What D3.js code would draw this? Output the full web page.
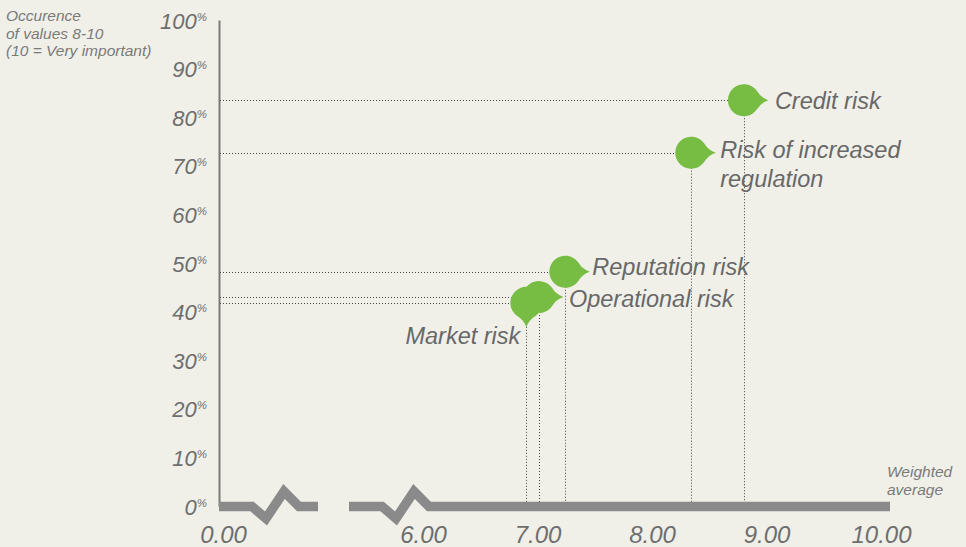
<!DOCTYPE html>
<html>
<head>
<meta charset="utf-8">
<script src="https://cdn.jsdelivr.net/npm/d3@7"></script>
<style>
  html, body { margin: 0; padding: 0; background: #f0f0e9; }
  svg { display: block; font-family: 'Liberation Sans', Arial, sans-serif; font-style: italic; }
</style>
</head>
<body>
<div id="app"></div>
<script>
// Data
const risks = ['Credit risk', 'Risk of increased\nregulation', 'Reputation risk', 'Operational risk', 'Market risk'];
const weightedAvg = [8.82, 8.36, 7.26, 7.03, 6.92];
const occurrence = [83.5, 72.7, 48.2, 43.0, 41.8];
const yTicks = [0, 10, 20, 30, 40, 50, 60, 70, 80, 90, 100];
const xTicks = [0, 6, 7, 8, 9, 10];

// Layout
const width = 966;
const height = 547;
const green = '#78bd43';
const textGrey = '#6e6e6e';
const barGrey = '#8a8a8a';
const bubbleR = 16;
// label offset from bubble centre, tail direction (deg)
const labelLayout = [
  { dx: 31, dy: 9, anchor: 'start', tail: 0 },
  { dx: 29, dy: 5, anchor: 'start', tail: 0 },
  { dx: 27, dy: 3, anchor: 'start', tail: 0 },
  { dx: 30, dy: 10, anchor: 'start', tail: 0 },
  { dx: -6, dy: 41, anchor: 'end', tail: 90 }
];

const y = d3.scaleLinear().domain([0, 100]).range([506, 20]);
// broken axis: 0 sits at the y axis, then 6..10
const x = d3.scaleLinear().domain([0, 6, 10]).range([221, 421, 879]);

const svg = d3.select('#app').append('svg')
  .attr('width', width)
  .attr('height', height);

svg.append('rect')
  .attr('width', width)
  .attr('height', height)
  .attr('fill', '#f0f0e9');

// y axis title
svg.append('text')
  .attr('fill', '#7a7a7a')
  .style('font-size', '15.5px')
  .selectAll('tspan')
  .data(['Occurence', 'of values 8-10', '(10 = Very important)'])
  .enter().append('tspan')
  .attr('x', 6)
  .attr('y', (_, i) => 21 + i * 17.5)
  .text(d => d);

// x axis title
svg.append('text')
  .attr('fill', '#7a7a7a')
  .style('font-size', '15.5px')
  .selectAll('tspan')
  .data(['Weighted', 'average'])
  .enter().append('tspan')
  .attr('x', 887)
  .attr('y', (_, i) => 477 + i * 18)
  .text(d => d);

// y axis
const yAxis = svg.append('g')
  .attr('transform', `translate(219,0)`)
  .call(d3.axisLeft(y).tickValues(yTicks).tickSize(0).tickSizeOuter(0).tickPadding(12));

yAxis.select('.domain')
  .attr('stroke', '#7a7a7a')
  .attr('stroke-width', 2);

yAxis.selectAll('.tick text').each(function (d) {
  const t = d3.select(this)
    .text(null)
    .attr('dy', null)
    .attr('y', 8)
    .attr('fill', textGrey)
    .attr('font-family', null)
    .attr('font-size', null)
    .style('font-size', '22px');
  t.append('tspan').text(d);
  t.append('tspan').text('%').style('font-size', '11.5px').attr('dy', -8);
});

// guide lines
const points = risks.map((name, i) => ({
  name,
  x: x(weightedAvg[i]),
  y: y(occurrence[i]),
  layout: labelLayout[i]
}));

const guides = svg.append('g')
  .attr('stroke', '#444')
  .attr('stroke-width', 1)
  .attr('stroke-dasharray', '1,2')
  .attr('fill', 'none');

guides.selectAll('.h')
  .data(points)
  .enter().append('line')
  .attr('x1', 220)
  .attr('x2', d => d.x)
  .attr('y1', d => Math.round(d.y) + 0.5)
  .attr('y2', d => Math.round(d.y) + 0.5);

guides.selectAll('.v')
  .data(points)
  .enter().append('line')
  .attr('x1', d => Math.round(d.x) + 0.5)
  .attr('x2', d => Math.round(d.x) + 0.5)
  .attr('y1', d => d.y)
  .attr('y2', y(0) - 4);

// broken baseline
const y0 = y(0) + 0.5;
const zig = [[0, 0], [33, 0], [47, 12], [65, -15], [80, 0]];
const seg = (start, end) => {
  const pts = zig.map(([dx, dy]) => [start + dx, y0 + dy]);
  pts.push([end, y0]);
  return d3.line()(pts);
};
svg.append('path')
  .attr('d', seg(x(0) - 2, x(0) + 97) + seg(x(6) - 72, x(10) + 11))
  .attr('fill', 'none')
  .attr('stroke', barGrey)
  .attr('stroke-width', 9.5)
  .attr('stroke-linejoin', 'miter');

// x axis labels
const xAxis = svg.append('g')
  .attr('transform', `translate(0,${y(0)})`)
  .call(d3.axisBottom(x).tickValues(xTicks).tickFormat(d3.format('.2f')).tickSize(0));

xAxis.select('.domain').remove();
xAxis.selectAll('.tick text')
  .attr('dy', null)
  .attr('y', 37)
  .attr('dx', 2)
  .attr('fill', textGrey)
  .attr('font-family', null)
  .attr('font-size', null)
  .style('font-size', '24px');

// bubbles
const a = 35 * Math.PI / 180;
const bx = bubbleR * Math.cos(a);
const by = bubbleR * Math.sin(a);
const bubblePath =
  `M${bx},${by}A${bubbleR},${bubbleR} 0 1 1 ${bx},${-by}` +
  `Q17,-2.5 24.5,0Q17,2.5 ${bx},${by}Z`;

svg.append('g')
  .selectAll('path')
  .data(points.slice().reverse())
  .enter().append('path')
  .attr('d', bubblePath)
  .attr('fill', green)
  .attr('transform', d => `translate(${d.x},${d.y}) rotate(${d.layout.tail})`);

// labels
svg.append('g')
  .selectAll('text')
  .data(points)
  .enter().append('text')
  .attr('fill', '#686868')
  .attr('text-anchor', d => d.layout.anchor)
  .style('font-size', '23.5px')
  .each(function (d) {
    d3.select(this).selectAll('tspan')
      .data(d.name.split('\n'))
      .enter().append('tspan')
      .attr('x', d.x + d.layout.dx)
      .attr('y', (_, i) => d.y + d.layout.dy + i * 29)
      .text(t => t);
  });
</script>
</body>
</html>
